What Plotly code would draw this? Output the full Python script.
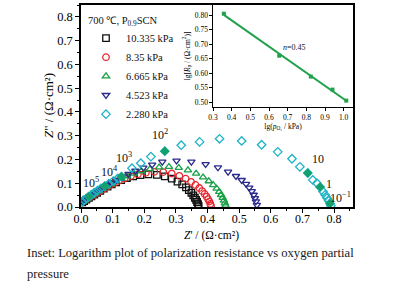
import numpy as np
import plotly.graph_objects as go

# ---------------- data ----------------
series_names = ["10.335 kPa", "8.35 kPa", "6.665 kPa", "4.523 kPa", "2.280 kPa"]

x_10335 = [0.004,0.010,0.017,0.025,0.033,0.042,0.051,0.061,0.072,0.084,0.097,0.111,0.127,0.145,0.165,0.188,0.213,0.240,0.265,0.287,0.305,0.320,0.332,0.341,0.349,0.355,0.360,0.364,0.367,0.370,0.372]
y_10335 = [0.020,0.025,0.031,0.038,0.045,0.052,0.060,0.068,0.077,0.086,0.095,0.104,0.113,0.122,0.129,0.134,0.137,0.135,0.129,0.119,0.107,0.095,0.083,0.071,0.060,0.049,0.039,0.030,0.021,0.012,0.004]

x_835 = [0.005,0.011,0.018,0.026,0.035,0.044,0.054,0.065,0.077,0.090,0.104,0.120,0.138,0.158,0.180,0.205,0.232,0.260,0.287,0.311,0.331,0.348,0.362,0.374,0.383,0.391,0.397,0.402,0.406,0.409,0.411]
y_835 = [0.021,0.027,0.033,0.040,0.047,0.055,0.063,0.072,0.081,0.090,0.100,0.110,0.120,0.130,0.138,0.144,0.148,0.147,0.141,0.131,0.119,0.106,0.093,0.080,0.067,0.055,0.044,0.033,0.023,0.013,0.005]

x_6665 = [0.005,0.011,0.018,0.026,0.035,0.045,0.056,0.068,0.081,0.095,0.110,0.127,0.146,0.167,0.191,0.218,0.247,0.278,0.309,0.338,0.364,0.386,0.404,0.418,0.429,0.437,0.443,0.448,0.452,0.455,0.457]
y_6665 = [0.022,0.028,0.035,0.042,0.050,0.058,0.067,0.077,0.087,0.097,0.108,0.119,0.130,0.141,0.151,0.160,0.167,0.169,0.165,0.155,0.141,0.125,0.109,0.093,0.078,0.064,0.051,0.039,0.027,0.016,0.006]

x_4523 = [0.005,0.011,0.018,0.026,0.035,0.045,0.056,0.068,0.081,0.096,0.112,0.130,0.150,0.172,0.197,0.225,0.257,0.302,0.349,0.394,0.433,0.465,0.490,0.508,0.522,0.532,0.540,0.546,0.550,0.553,0.556]
y_4523 = [0.022,0.029,0.036,0.044,0.052,0.061,0.070,0.080,0.091,0.102,0.114,0.126,0.139,0.152,0.165,0.178,0.190,0.195,0.190,0.180,0.166,0.148,0.130,0.113,0.097,0.081,0.066,0.051,0.037,0.023,0.008]

x_2280 = [0.004,0.010,0.017,0.025,0.033,0.042,0.052,0.063,0.075,0.088,0.102,0.116,0.128,0.161,0.189,0.221,0.265,0.317,0.375,0.438,0.508,0.571,0.622,0.667,0.692,0.717,0.733,0.746,0.756,0.765,0.772,0.778,0.783,0.787,0.790]
y_2280 = [0.022,0.029,0.036,0.044,0.052,0.060,0.069,0.078,0.088,0.098,0.109,0.120,0.128,0.163,0.184,0.212,0.235,0.260,0.274,0.287,0.278,0.262,0.232,0.203,0.169,0.143,0.114,0.100,0.084,0.065,0.051,0.038,0.026,0.015,0.005]

# frequency markers (filled) and their labels
freq_x = [0.025, 0.075, 0.128, 0.265, 0.717, 0.756, 0.787]
freq_y = [0.044, 0.088, 0.128, 0.235, 0.143, 0.084, 0.015]
freq_labels = ["10<sup>5</sup>", "10<sup>4</sup>", "10<sup>3</sup>", "10<sup>2</sup>", "10", "1", "10<sup>\u22121</sup>"]
freq_label_x = [0.032, 0.089, 0.137, 0.251, 0.749, 0.784, 0.822]
freq_label_y = [0.105, 0.148, 0.207, 0.304, 0.203, 0.097, 0.042]

# inset: lg(pO2) vs lg(Rp)
inset_x = [0.358, 0.655, 0.824, 0.940, 1.014]
inset_y = [0.805, 0.660, 0.588, 0.543, 0.505]
inset_note = "<i>n</i>=0.45"

main_xticks = [0.0, 0.1, 0.2, 0.3, 0.4, 0.5, 0.6, 0.7, 0.8]
main_yticks = [0.0, 0.1, 0.2, 0.3, 0.4, 0.5, 0.6, 0.7, 0.8]

x_title = "<i>Z</i>' / (Ω·cm²)"
y_title = "<i>Z</i>\" / (Ω·cm²)"
caption_1 = "Inset: Logarithm plot of polarization resistance vs oxygen partial"
caption_2 = "pressure"

# ---------------- styles ----------------
SERIF = "Liberation Serif, Times New Roman, serif"
colors = ["#111111", "#e8262d", "#1aa048", "#2a2a8c", "#1cb3c4"]
symbols = ["square-open", "circle-open", "triangle-up-open", "triangle-down-open", "diamond-open"]
xs = [x_10335, x_835, x_6665, x_4523, x_2280]
ys = [y_10335, y_835, y_6665, y_4523, y_2280]

fig = go.Figure()
for name, x, y, c, s in zip(series_names, xs, ys, colors, symbols):
    fig.add_trace(go.Scatter(
        x=x, y=y, mode="markers", name=name,
        marker=dict(symbol=s, size=6.5, color=c, line=dict(color=c, width=1.3)),
        xaxis="x", yaxis="y"))

fig.add_trace(go.Scatter(
    x=freq_x, y=freq_y, mode="markers", showlegend=False,
    marker=dict(symbol="diamond", size=7, color="#13a06a"),
    xaxis="x", yaxis="y"))

# inset
fit = np.polyfit(inset_x, inset_y, 1)
fit_x = [min(inset_x), max(inset_x)]
fit_y = list(np.polyval(fit, fit_x))
fig.add_trace(go.Scatter(
    x=fit_x, y=fit_y, mode="lines", showlegend=False,
    line=dict(color="#22a04c", width=2), xaxis="x2", yaxis="y2"))
fig.add_trace(go.Scatter(
    x=inset_x, y=inset_y, mode="markers", showlegend=False,
    marker=dict(symbol="square", size=4, color="#22a04c"), xaxis="x2", yaxis="y2"))

for lx, ly, lt in zip(freq_label_x, freq_label_y, freq_labels):
    fig.add_annotation(x=lx, y=ly, text=lt, showarrow=False, xref="x", yref="y",
                       font=dict(family=SERIF, size=12, color="#111"))

fig.add_annotation(x=0.665, y=0.688, text=inset_note, showarrow=False, xref="x2", yref="y2",
                   xanchor="left", font=dict(family=SERIF, size=8, color="#111"))

# layout helpers (pixel -> paper)
L, R, T, B = 81, 48, 5, 81
PW, PH = 401 - L - R, 288 - T - B
def px(xp):
    return (xp - L) / PW
def py(yp):
    return (288 - B - yp) / PH

# axis titles
fig.add_annotation(x=px(211), y=py(236), xref="paper", yref="paper", xanchor="center", yanchor="middle",
                   text=x_title, showarrow=False, font=dict(family=SERIF, size=11.5, color="black"))
fig.add_annotation(x=px(48), y=py(106), xref="paper", yref="paper", xanchor="center", yanchor="middle",
                   text=y_title, textangle=-90, showarrow=False, font=dict(family=SERIF, size=13, color="black"))

# caption
fig.add_annotation(x=px(25), y=py(253), xref="paper", yref="paper", xanchor="left", yanchor="middle",
                   text=caption_1, showarrow=False, font=dict(family=SERIF, size=12.6, color="#1a1a1a"))
fig.add_annotation(x=px(25), y=py(274), xref="paper", yref="paper", xanchor="left", yanchor="middle",
                   text=caption_2, showarrow=False, font=dict(family=SERIF, size=12.6, color="#1a1a1a"))

axis_common = dict(showgrid=False, zeroline=False, showline=True, linecolor="black",
                   mirror=True, ticks="outside", tickcolor="black", automargin=False)

fig.update_layout(
    template="none",
    width=401, height=288,
    margin=dict(l=L, r=R, t=T, b=B, autoexpand=False),
    paper_bgcolor="white", plot_bgcolor="white",
    font=dict(family=SERIF, color="black"),
    xaxis=dict(range=[0, 0.86], tickvals=main_xticks, tickformat=".1f",
               ticklen=4, tickwidth=1.3, linewidth=1.5, ticklabelstandoff=-4,
               minor=dict(dtick=0.05, tick0=0, ticks="outside", ticklen=2.5, tickcolor="black"),
               tickfont=dict(family=SERIF, size=12),
               **axis_common),
    yaxis=dict(range=[0, 0.85], tickvals=main_yticks, tickformat=".1f",
               ticklen=4, tickwidth=1.3, linewidth=1.5,
               minor=dict(dtick=0.05, tick0=0, ticks="outside", ticklen=2.5, tickcolor="black"),
               tickfont=dict(family=SERIF, size=12.5),
               **axis_common),
    xaxis2=dict(domain=[px(213), 1.0], anchor="y2", range=[0.3, 1.05], dtick=0.1, tick0=0.3,
                tickformat=".1f", ticklen=2.5, linewidth=1.2,
                tickfont=dict(family=SERIF, size=7.5),
                title=dict(text="lg(<i>p</i><sub>O₂</sub> / kPa)", font=dict(family=SERIF, size=7.5), standoff=2),
                **axis_common),
    yaxis2=dict(domain=[py(107), 1.0], anchor="x2", range=[0.483, 0.835], dtick=0.05, tick0=0.5,
                tickformat=".2f", ticklen=2.5, linewidth=1.2,
                tickfont=dict(family=SERIF, size=7.5),
                title=dict(text="lg[<i>R</i><sub>p</sub> / (Ω·cm<sup>2</sup>)]", font=dict(family=SERIF, size=7.5), standoff=3),
                **axis_common),
    legend=dict(x=px(86), y=py(10), xanchor="left", yanchor="top",
                bgcolor="rgba(0,0,0,0)", borderwidth=0,
                font=dict(family=SERIF, size=10.5, color="#111"),
                title=dict(text="700 ℃, P<sub>0.9</sub>SCN", font=dict(family=SERIF, size=10.5, color="#111")),
                itemwidth=30, tracegroupgap=0),
)

fig.write_html("out.html", config={"displayModeBar": False},
               post_script="document.body.style.margin='0';document.body.style.padding='0';")
